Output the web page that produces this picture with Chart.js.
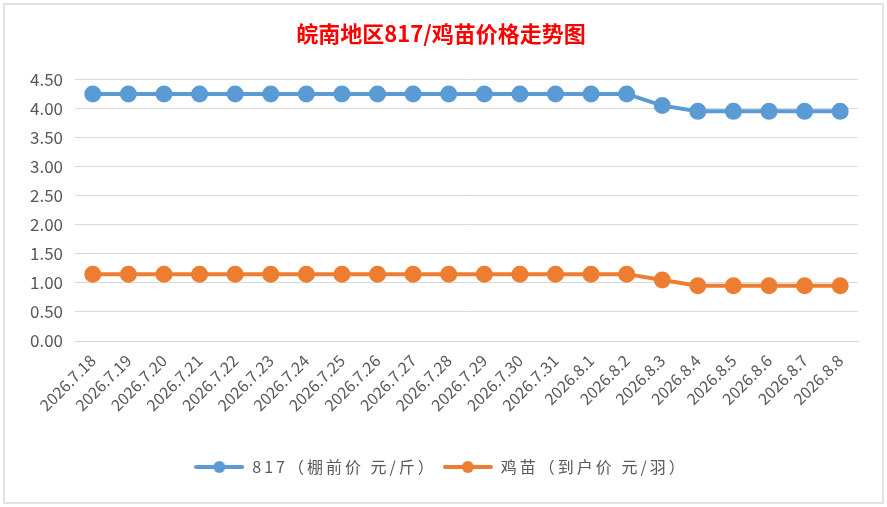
<!DOCTYPE html>
<html>
<head>
<meta charset="utf-8">
<script src="https://cdn.jsdelivr.net/npm/chart.js@4/dist/chart.umd.min.js"></script>
<style>
  html, body { margin: 0; padding: 0; background: #fff; }
  #wrap { position: relative; width: 887px; height: 507px; }
</style>
</head>
<body>
<div id="wrap"><canvas id="chart" width="887" height="507"></canvas></div>
<script>
const dates = ['2026.7.18', '2026.7.19', '2026.7.20', '2026.7.21', '2026.7.22', '2026.7.23',
    '2026.7.24', '2026.7.25', '2026.7.26', '2026.7.27', '2026.7.28', '2026.7.29', '2026.7.30',
    '2026.7.31', '2026.8.1', '2026.8.2', '2026.8.3', '2026.8.4', '2026.8.5', '2026.8.6',
    '2026.8.7', '2026.8.8'];
const price817 = [4.25, 4.25, 4.25, 4.25, 4.25, 4.25, 4.25, 4.25, 4.25, 4.25, 4.25, 4.25,
    4.25, 4.25, 4.25, 4.25, 4.05, 3.95, 3.95, 3.95, 3.95, 3.95];
const priceChick = [1.15, 1.15, 1.15, 1.15, 1.15, 1.15, 1.15, 1.15, 1.15, 1.15, 1.15, 1.15,
    1.15, 1.15, 1.15, 1.15, 1.05, 0.95, 0.95, 0.95, 0.95, 0.95];
const seriesNames = ['817（棚前价 元/斤）', '鸡苗（到户价 元/羽）'];

const blue = '#5B9BD5';
const orange = '#ED7D31';
const fontFamily = "'Noto Sans CJK SC', 'Microsoft YaHei', sans-serif";

// legend marker: line with a dot in the middle
function legendMarker(color) {
    const c = document.createElement('canvas');
    c.width = 50;
    c.height = 14;
    const g = c.getContext('2d');
    g.strokeStyle = color;
    g.lineWidth = 4;
    g.lineCap = 'round';
    g.beginPath();
    g.moveTo(2, 7);
    g.lineTo(48, 7);
    g.stroke();
    g.fillStyle = color;
    g.beginPath();
    g.arc(25, 7, 6, 0, Math.PI * 2);
    g.fill();
    return c;
}

const frame = {
    id: 'frame',
    beforeDraw(chart) {
        const ctx = chart.ctx;
        ctx.save();
        ctx.fillStyle = '#fff';
        ctx.fillRect(0, 0, chart.width, chart.height);
        ctx.strokeStyle = '#D9D9D9';
        ctx.lineWidth = 1.5;
        ctx.strokeRect(4, 4, chart.width - 8, chart.height - 8);
        ctx.restore();
    }
};

const chart = new Chart(document.getElementById('chart'), {
    type: 'line',
    data: {
        labels: dates,
        datasets: [{
            label: seriesNames[0],
            data: price817,
            borderColor: blue,
            backgroundColor: blue,
            borderWidth: 4,
            pointRadius: 6.5,
            pointHoverRadius: 6.5,
            pointBackgroundColor: blue,
            pointBorderColor: blue,
            pointStyle: 'circle',
            tension: 0
        }, {
            label: seriesNames[1],
            data: priceChick,
            borderColor: orange,
            backgroundColor: orange,
            borderWidth: 4,
            pointRadius: 6.5,
            pointHoverRadius: 6.5,
            pointBackgroundColor: orange,
            pointBorderColor: orange,
            pointStyle: 'circle',
            tension: 0
        }]
    },
    options: {
        responsive: false,
        animation: false,
        devicePixelRatio: 1,
        layout: { padding: { top: 20, right: 5, bottom: 22, left: 0 } },
        plugins: {
            title: {
                display: true,
                text: '皖南地区817/鸡苗价格走势图',
                color: '#FF0000',
                font: { family: fontFamily, size: 22, weight: 'bold' },
                padding: { top: 0, bottom: 33 }
            },
            legend: {
                position: 'bottom',
                labels: {
                    color: '#595959',
                    font: { family: fontFamily, size: 16 },
                    usePointStyle: true,
                    pointStyleWidth: 50,
                    padding: 6,
                    generateLabels(chart) {
                        return chart.data.datasets.map((ds, i) => ({
                            text: ds.label,
                            fontColor: '#595959',
                            pointStyle: legendMarker(ds.borderColor),
                            datasetIndex: i,
                            hidden: false,
                            lineWidth: 0
                        }));
                    }
                }
            },
            tooltip: { enabled: false }
        },
        scales: {
            x: {
                offset: true,
                grid: { display: false },
                border: { color: '#D9D9D9', width: 1 },
                ticks: {
                    color: '#595959',
                    font: { family: fontFamily, size: 16 },
                    minRotation: 45,
                    maxRotation: 45,
                    autoSkip: false,
                    padding: 2
                },
                afterFit(scale) { scale.height = 112; }
            },
            y: {
                min: 0,
                max: 4.5,
                grid: { color: '#D9D9D9', lineWidth: 1, drawTicks: false },
                border: { display: false },
                ticks: {
                    stepSize: 0.5,
                    color: '#595959',
                    font: { family: fontFamily, size: 17 },
                    padding: 12,
                    callback: v => v.toFixed(2)
                },
                afterFit(scale) { scale.width = 75; }
            },
            // empty right margin so the title stays centred on the whole frame
            yRight: {
                position: 'right',
                min: 0,
                max: 4.5,
                grid: { display: false },
                border: { display: false },
                ticks: { display: false },
                afterFit(scale) { scale.width = 24; }
            }
        }
    },
    plugins: [frame]
});

// wider letter spacing for the legend text only
const lg = chart.legend;
const origFit = lg.fit.bind(lg);
const origDraw = lg.draw.bind(lg);
lg.fit = function () {
    chart.ctx.letterSpacing = '3px';
    origFit();
    chart.ctx.letterSpacing = '0px';
};
lg.draw = function () {
    chart.ctx.letterSpacing = '3px';
    origDraw();
    chart.ctx.letterSpacing = '0px';
};
chart.update();
</script>
</body>
</html>
